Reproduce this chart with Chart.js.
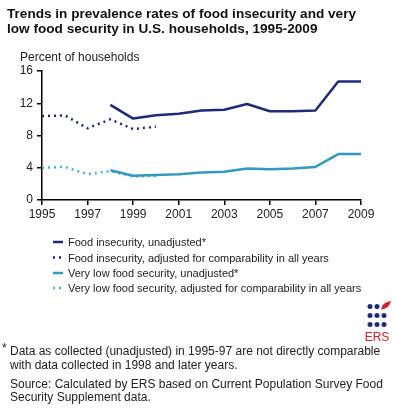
<!DOCTYPE html>
<html><head><meta charset="utf-8">
<script src="https://cdn.jsdelivr.net/npm/chart.js@4"></script>
<style>html,body{margin:0;padding:0;background:#fff;}#wrap{width:396px;height:410px;position:relative;}</style>
</head><body><div id="wrap"><canvas id="c" width="396" height="410"></canvas></div>
<script>
// ---- data ----
const years = [1995,1996,1997,1998,1999,2000,2001,2002,2003,2004,2005,2006,2007,2008,2009];
const foodInsecUnadj = [null,null,null,11.8,10.1,10.5,10.7,11.1,11.2,11.9,11.0,11.0,11.1,14.7,14.7];
const foodInsecAdj   = [10.4,10.5,8.9,10.0,8.8,9.1,null,null,null,null,null,null,null,null,null];
const vlfsUnadj      = [null,null,null,3.7,3.0,3.1,3.2,3.4,3.5,3.9,3.8,3.9,4.1,5.7,5.7];
const vlfsAdj        = [4.0,4.1,3.2,3.6,2.9,3.0,null,null,null,null,null,null,null,null,null];
const xTicks = [1995,1997,1999,2001,2003,2005,2007,2009];
const yTicks = [0,4,8,12,16];
const seriesNames = [
  'Food insecurity, unadjusted*',
  'Food insecurity, adjusted for comparability in all years',
  'Very low food security, unadjusted*',
  'Very low food security, adjusted for comparability in all years'
];
const titleLines = ['Trends in prevalence rates of food insecurity and very','low food security in U.S. households, 1995-2009'];
const yAxisTitle = 'Percent of households';
const footnoteLines = ['Data as collected (unadjusted) in 1995-97 are not directly comparable','with data collected in 1998 and later years.'];
const sourceLines = ['Source: Calculated by ERS based on Current Population Survey Food','Security Supplement data.'];

const NAVY = '#1f2a78';
const TEAL = '#3399c0';
const TEAL_LIGHT = '#4fb0cc';
const FONT = '"Liberation Sans", Arial, sans-serif';

const pts = arr => years.map((y,i)=>({x:y,y:arr[i]}));

const datasets = [
  {label:seriesNames[0], data:pts(foodInsecUnadj), borderColor:NAVY, borderWidth:2.5, borderDash:[]},
  {label:seriesNames[1], data:pts(foodInsecAdj), borderColor:NAVY, borderWidth:2.5, borderDash:[2,4]},
  {label:seriesNames[2], data:pts(vlfsUnadj), borderColor:TEAL, borderWidth:2.5, borderDash:[]},
  {label:seriesNames[3], data:pts(vlfsAdj), borderColor:TEAL_LIGHT, borderWidth:2.5, borderDash:[2,4]}
].map(d=>Object.assign(d,{pointRadius:0, fill:false, tension:0, spanGaps:false, borderCapStyle:'butt', borderJoinStyle:'round'}));

const decor = {
  id:'decor',
  afterDraw(chart){
    const ctx = chart.ctx;
    ctx.save();
    ctx.fillStyle = '#111';
    ctx.textBaseline = 'alphabetic';
    ctx.textAlign = 'left';
    // title
    ctx.font = 'bold 13.6px ' + FONT;
    ctx.fillText(titleLines[0], 7, 17.5);
    ctx.fillText(titleLines[1], 7, 32.5);
    // y axis title
    ctx.font = '12px ' + FONT;
    ctx.fillStyle = '#222';
    ctx.fillText(yAxisTitle, 20, 60.5);
    // legend
    ctx.font = '11px ' + FONT;
    const base = [246, 261.5, 277, 292];
    chart.data.datasets.forEach((d,i)=>{
      ctx.save();
      ctx.strokeStyle = d.borderColor;
      ctx.lineWidth = 2.5;
      ctx.setLineDash(d.borderDash || []);
      ctx.beginPath();
      ctx.moveTo(53, base[i]-4);
      ctx.lineTo(63, base[i]-4);
      ctx.stroke();
      ctx.restore();
      ctx.fillStyle = '#222';
      ctx.fillText(d.label, 68, base[i]);
    });
    // footnote
    ctx.font = '12px ' + FONT;
    ctx.fillText('*', 2, 352);
    ctx.fillText(footnoteLines[0], 10, 355);
    ctx.fillText(footnoteLines[1], 10, 369);
    ctx.fillText(sourceLines[0], 10, 387.5);
    ctx.fillText(sourceLines[1], 10, 401);
    // ERS logo
    ctx.fillStyle = '#1f2a78';
    const cols = [370, 377, 384], rows = [306.5, 315.5, 324.5];
    rows.forEach((ry,ri)=>cols.forEach((cx,ci)=>{
      if (ri===0 && ci===2) return;
      ctx.beginPath(); ctx.arc(cx, ry, 2.5, 0, Math.PI*2); ctx.fill();
    }));
    ctx.fillStyle = '#d2232a';
    ctx.beginPath();
    ctx.moveTo(381, 309.5);
    ctx.quadraticCurveTo(382, 302, 391, 301);
    ctx.quadraticCurveTo(389, 309, 381, 309.5);
    ctx.fill();
    ctx.font = '12px ' + FONT;
    ctx.textAlign = 'center';
    ctx.fillText('ERS', 377, 341);
    ctx.restore();
  }
};

new Chart(document.getElementById('c'), {
  type:'line',
  data:{datasets},
  options:{
    responsive:false,
    animation:false,
    devicePixelRatio:1,
    layout:{padding:{left:0,right:35,top:71,bottom:190}},
    plugins:{legend:{display:false}, title:{display:false}, tooltip:{enabled:false}},
    scales:{
      x:{
        type:'linear', min:1995, max:2009,
        afterFit(s){ s.height = 20; },
        afterBuildTicks(s){ s.ticks = xTicks.map(v=>({value:v})); },
        ticks:{autoSkip:false, maxRotation:0, padding:2, color:'#222', font:{family:FONT, size:12}, callback:v=>String(v)},
        grid:{display:true, drawOnChartArea:false, drawTicks:true, tickLength:5, color:'#000', lineWidth:1.5},
        border:{display:true, color:'#000', width:1.5}
      },
      y:{
        min:0, max:16,
        afterFit(s){ s.width = 42; },
        afterBuildTicks(s){ s.ticks = yTicks.map(v=>({value:v})); },
        ticks:{padding:4, color:'#222', font:{family:FONT, size:12}, callback:v=>String(v)},
        grid:{display:true, drawOnChartArea:false, drawTicks:true, tickLength:5, color:'#000', lineWidth:1.5},
        border:{display:true, color:'#000', width:1.5}
      }
    }
  },
  plugins:[decor]
});
</script>
</body></html>
